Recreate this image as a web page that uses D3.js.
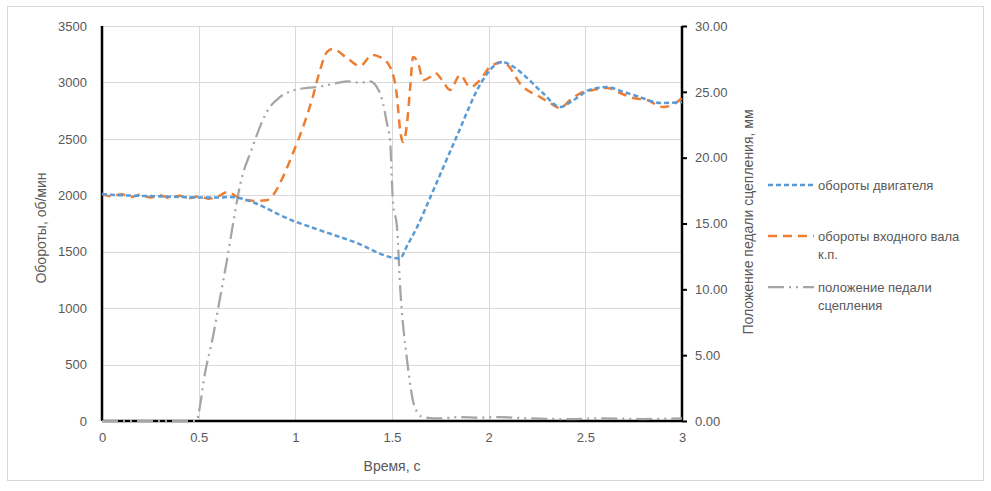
<!DOCTYPE html>
<html><head><meta charset="utf-8">
<script src="https://cdn.jsdelivr.net/npm/d3@7"></script>
<style>
body{margin:0;background:#fff;}
text{font-family:"Liberation Sans","DejaVu Sans",sans-serif;fill:#595959;}
</style></head>
<body><svg id="c" width="991" height="491"></svg>
<script>
// ---- data ----
const engineTime = [0,0.1,0.2,0.3,0.4,0.5,0.6,0.66,1.0,1.3,1.54,1.58,1.63,1.7,1.82,1.97,2.03,2.07,2.13,2.21,2.28,2.37,2.44,2.52,2.61,2.70,2.78,2.89,3.0];
const engineRpm  = [2010,2000,1995,1990,1985,1980,1980,1985,1766,1589,1440,1560,1719,1990,2463,3021,3150,3181,3137,3021,2906,2782,2844,2933,2959,2915,2871,2818,2825];

const shaftTime = [0,0.05,0.1,0.15,0.2,0.25,0.3,0.35,0.4,0.45,0.5,0.55,0.6,0.65,0.7,0.75,0.8,0.85,0.885,0.936,0.988,1.04,1.09,1.128,1.164,1.195,1.267,1.335,1.397,1.438,1.49,1.526,1.542,1.557,1.578,1.593,1.609,1.635,1.661,1.697,1.723,1.759,1.80,1.852,1.904,1.955,2.007,2.074,2.178,2.266,2.318,2.369,2.421,2.488,2.54,2.613,2.68,2.747,2.819,2.902,2.95,3.0];
const shaftRpm  = [2015,1990,2010,1985,2005,1980,2000,1975,1995,1975,1990,1970,1990,2030,1985,1955,1950,1955,2002,2162,2375,2605,2870,3110,3270,3296,3216,3146,3243,3225,3137,2871,2578,2472,2640,2933,3225,3172,3021,3048,3083,3021,2933,3066,2959,3021,3137,3181,2959,2871,2818,2773,2844,2915,2933,2951,2906,2862,2844,2782,2800,2862];

const pedalTime = [0,0.3,0.49,0.5,0.533,0.574,0.61,0.646,0.678,0.714,0.776,0.853,0.92,0.988,1.06,1.128,1.195,1.267,1.335,1.386,1.42,1.449,1.474,1.49,1.505,1.526,1.542,1.578,1.619,1.66,1.75,1.85,1.95,2.05,2.2,2.4,2.6,2.8,3.0];
const pedalMm   = [0,0,0,0.6,3.65,6.4,9.3,12.2,15.0,17.9,20.7,23.5,24.6,25.1,25.3,25.4,25.6,25.8,25.7,25.8,25.4,24.4,22.6,21.3,16.6,14.7,10.2,4.6,1.0,0.3,0.2,0.3,0.25,0.3,0.2,0.15,0.2,0.15,0.2];

const xTicks = [0,0.5,1,1.5,2,2.5,3];
const yLeftTicks = [0,500,1000,1500,2000,2500,3000,3500];
const yRightTicks = [0,5,10,15,20,25,30];

// ---- layout ----
const svg = d3.select("#c");
const L=102, R=682, T=26, B=421;
const x = d3.scaleLinear().domain([0,3]).range([L,R]);
const yL = d3.scaleLinear().domain([0,3500]).range([B,T]);
const yR = d3.scaleLinear().domain([0,30]).range([B,T]);

svg.append("rect").attr("x",7.5).attr("y",6.5).attr("width",976).attr("height",474)
  .attr("fill","#fff").attr("stroke","#d9d9d9");

// grid
const g = svg.append("g");
g.selectAll(".hg").data(yLeftTicks.slice(1)).join("line")
  .attr("x1",L).attr("x2",R).attr("y1",d=>Math.round(yL(d))+0.5).attr("y2",d=>Math.round(yL(d))+0.5)
  .attr("stroke","#d9d9d9");
g.selectAll(".vg").data(xTicks.slice(1,-1)).join("line")
  .attr("y1",T).attr("y2",B).attr("x1",d=>Math.round(x(d))+0.5).attr("x2",d=>Math.round(x(d))+0.5)
  .attr("stroke","#d9d9d9");

// axes
const axL = svg.append("g").attr("transform",`translate(${L},0)`)
  .call(d3.axisLeft(yL).tickValues(yLeftTicks).tickSize(0).tickPadding(15).tickFormat(d3.format("d")));
const axR = svg.append("g").attr("transform",`translate(${R},0)`)
  .call(d3.axisRight(yR).tickValues(yRightTicks).tickSize(5).tickPadding(8).tickFormat(d3.format(".2f")));
const axB = svg.append("g").attr("transform",`translate(0,${B})`)
  .call(d3.axisBottom(x).tickValues(xTicks).tickSize(0).tickPadding(12).tickFormat(d=>String(d)));
[axL,axR,axB].forEach(a=>{
  a.selectAll("text").style("font-size","13px").attr("fill","#595959");
  a.select(".domain").attr("stroke","#000").attr("stroke-width",2.5);
  a.selectAll(".tick line").attr("stroke","#000").attr("stroke-width",2);
});
axR.select(".domain").attr("d",`M0,${T}V${B}`);
axL.select(".domain").attr("d",`M0,${T}V${B}`);
axB.select(".domain").attr("d",`M${L},0H${R}`);

// titles
svg.append("text").attr("x",392).attr("y",471).attr("text-anchor","middle").style("font-size","14px").text("Время, с");
svg.append("text").attr("transform","translate(46,228) rotate(-90)").attr("text-anchor","middle").style("font-size","14px").text("Обороты, об/мин");
svg.append("text").attr("transform","translate(753,222) rotate(-90)").attr("text-anchor","middle").style("font-size","14px").text("Положение педали сцепления, мм");

// lines
const mk = (ts,vs)=>ts.map((t,i)=>[t,vs[i]]);
const lineL = d3.line().x(d=>x(d[0])).y(d=>yL(d[1])).curve(d3.curveMonotoneX);
const lineR = d3.line().x(d=>x(d[0])).y(d=>yR(d[1])).curve(d3.curveMonotoneX);

const styles = [
  {color:"#5B9BD5", dash:"5,3", w:2.5},
  {color:"#ED7D31", dash:"9,6", w:2.5},
  {color:"#A5A5A5", dash:"16,5,2,5,2,5", w:2.25}
];
svg.append("path").attr("d",lineR(mk(pedalTime,pedalMm))).attr("fill","none")
  .attr("stroke",styles[2].color).attr("stroke-width",styles[2].w).attr("stroke-dasharray",styles[2].dash);
svg.append("path").attr("d",lineL(mk(shaftTime,shaftRpm))).attr("fill","none")
  .attr("stroke",styles[1].color).attr("stroke-width",styles[1].w).attr("stroke-dasharray",styles[1].dash);
svg.append("path").attr("d",lineL(mk(engineTime,engineRpm))).attr("fill","none")
  .attr("stroke",styles[0].color).attr("stroke-width",styles[0].w).attr("stroke-dasharray",styles[0].dash);

// legend
const leg = [
  {y:185, lines:["обороты двигателя"]},
  {y:236, lines:["обороты входного вала","к.п."]},
  {y:287, lines:["положение педали","сцепления"]}
];
leg.forEach((e,i)=>{
  svg.append("line").attr("x1",768).attr("x2",814).attr("y1",e.y).attr("y2",e.y)
    .attr("stroke",styles[i].color).attr("stroke-width",styles[i].w).attr("stroke-dasharray",styles[i].dash);
  const t = svg.append("text").attr("x",818).attr("y",e.y+5).style("font-size","13px");
  e.lines.forEach((s,j)=>t.append("tspan").attr("x",818).attr("dy",j?18:0).text(s));
});
</script></body></html>
